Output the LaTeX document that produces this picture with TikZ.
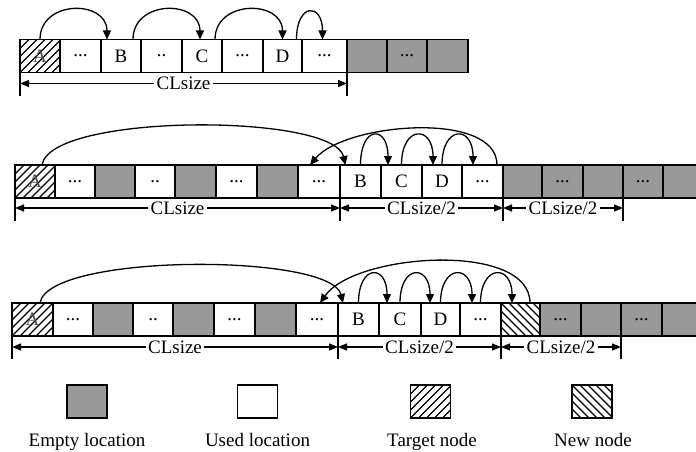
\documentclass[tikz,border=0pt]{standalone}
\usepackage{fontspec}
\setmainfont{Liberation Serif}
\usetikzlibrary{arrows.meta}
\definecolor{emptyc}{HTML}{999999}
\newcommand\mkcell[6]{%
  \pgfmathsetmacro\cw{#3-#2}%
  \node[cell,#5,minimum width=\cw pt,anchor=north west] (#1) at (#2,#4) {#6};}
\tikzset{
  cell/.style={draw,line width=1.4pt,minimum height=33pt,inner sep=0pt,outer sep=0pt},
  used/.style={fill=white},
  empty/.style={fill=emptyc},
  hatchA/.style={fill=white,path picture={\foreach \i in {-48,-40,...,48}
      \draw[line width=1.2pt] ([xshift=\i pt]path picture bounding box.south west) -- ++(45:90pt);}},
  hatchB/.style={fill=white,path picture={\foreach \i in {-48,-40,...,48}
      \draw[line width=1.2pt] ([xshift=\i pt]path picture bounding box.north west) -- ++(-45:90pt);}},
  target/.style={hatchA,text=black!70},
  newn/.style={hatchB},
  arc/.style={line width=1.3pt,-{Triangle[length=9pt,width=8pt]}},
  dimline/.style={line width=1.2pt,{Triangle[length=9pt,width=7pt]}-{Triangle[length=9pt,width=7pt]}},
  tickline/.style={line width=1.2pt},
  dimlabel/.style={fill=white,inner sep=2.5pt},
  legbox/.style={draw,line width=1.5pt,minimum width=40pt,minimum height=33pt,inner sep=0pt},
  legtext/.style={anchor=base}
}
\begin{document}
\begin{tikzpicture}[x=1pt,y=-1pt,font=\fontsize{19}{22}\selectfont]
\useasboundingbox (0,0) rectangle (696,452);
\clip (0,0) rectangle (696,452);
% ---------- row 1 ----------
\mkcell{r1a}{20}{60}{39.5}{target}{A}
\mkcell{r1b}{60}{101}{39.5}{used}{...}
\mkcell{r1c}{101}{141}{39.5}{used}{B}
\mkcell{r1d}{141}{182}{39.5}{used}{..}
\mkcell{r1e}{182}{222}{39.5}{used}{C}
\mkcell{r1f}{222}{263}{39.5}{used}{...}
\mkcell{r1g}{263}{302}{39.5}{used}{D}
\mkcell{r1h}{302}{347}{39.5}{used}{...}
\mkcell{r1i}{347}{387}{39.5}{empty}{}
\mkcell{r1j}{387}{427}{39.5}{empty}{...}
\mkcell{r1k}{427}{468}{39.5}{empty}{}
\draw[arc] (r1a.north) .. controls +(0,-40) and +(0,-40) .. ([xshift=-14pt]r1c.north);
\draw[arc] ([xshift=12pt]r1c.north) .. controls +(0,-40) and +(0,-40) .. ([xshift=-2pt]r1e.north);
\draw[arc] ([xshift=13pt]r1e.north) .. controls +(0,-40) and +(0,-40) .. (r1g.north);
\draw[arc] ([xshift=14pt]r1g.north) .. controls +(0,-37) and +(0,-37) .. ([xshift=-2pt]r1h.north);
\draw[tickline] (r1a.south west) -- ++(0,23);
\draw[tickline] (r1h.south east) -- ++(0,23);
\draw[dimline] ([yshift=-11pt]r1a.south west) -- node[dimlabel]{CLsize} ([yshift=-11pt]r1h.south east);
% ---------- row 2 ----------
\mkcell{r2a}{15}{55}{165}{target}{A}
\mkcell{r2b}{55}{95}{165}{used}{...}
\mkcell{r2c}{95}{135}{165}{empty}{}
\mkcell{r2d}{135}{175}{165}{used}{..}
\mkcell{r2e}{175}{216}{165}{empty}{}
\mkcell{r2f}{216}{257}{165}{used}{...}
\mkcell{r2g}{257}{298}{165}{empty}{}
\mkcell{r2h}{298}{340}{165}{used}{...}
\mkcell{r2i}{340}{381}{165}{used}{B}
\mkcell{r2j}{381}{422}{165}{used}{C}
\mkcell{r2k}{422}{462}{165}{used}{D}
\mkcell{r2l}{462}{503}{165}{used}{...}
\mkcell{r2m}{503}{542}{165}{empty}{}
\mkcell{r2n}{542}{583}{165}{empty}{...}
\mkcell{r2o}{583}{623}{165}{empty}{}
\mkcell{r2p}{623}{663}{165}{empty}{...}
\mkcell{r2q}{663}{705}{165}{empty}{}
\draw[arc] ([xshift=7pt]r2a.north) .. controls +(8,-52) and +(-12,-52) .. ([xshift=-15pt]r2i.north);
\draw[arc] ([xshift=14.5pt]r2l.north) .. controls +(0,-55) and +(35,-42) .. ([xshift=-9pt]r2h.north);
\draw[arc] (r2i.north) .. controls +(0,-40) and +(0,-40) .. ([xshift=-13.5pt]r2j.north);
\draw[arc] (r2j.north) .. controls +(0,-40) and +(0,-40) .. ([xshift=-9pt]r2k.north);
\draw[arc] (r2k.north) .. controls +(0,-40) and +(0,-40) .. ([xshift=-9.5pt]r2l.north);
\draw[tickline] (r2a.south west) -- ++(0,23);
\draw[tickline] (r2i.south west) -- ++(0,23);
\draw[tickline] (r2l.south east) -- ++(0,23);
\draw[tickline] (r2o.south east) -- ++(0,23);
\draw[dimline] ([yshift=-10pt]r2a.south west) -- node[dimlabel]{CLsize} ([yshift=-10pt]r2i.south west);
\draw[dimline] ([yshift=-10pt]r2i.south west) -- node[dimlabel]{CLsize/2} ([yshift=-10pt]r2l.south east);
\draw[dimline] ([yshift=-10pt]r2l.south east) -- node[dimlabel]{CLsize/2} ([yshift=-10pt]r2o.south east);
% ---------- row 3 ----------
\mkcell{r3a}{12}{53}{303}{target}{A}
\mkcell{r3b}{53}{93}{303}{used}{...}
\mkcell{r3c}{93}{133}{303}{empty}{}
\mkcell{r3d}{133}{173}{303}{used}{..}
\mkcell{r3e}{173}{214}{303}{empty}{}
\mkcell{r3f}{214}{255}{303}{used}{...}
\mkcell{r3g}{255}{296}{303}{empty}{}
\mkcell{r3h}{296}{338}{303}{used}{...}
\mkcell{r3i}{338}{379}{303}{used}{B}
\mkcell{r3j}{379}{421}{303}{used}{C}
\mkcell{r3k}{421}{460}{303}{used}{D}
\mkcell{r3l}{460}{501}{303}{used}{...}
\mkcell{r3m}{501}{540}{303}{newn}{}
\mkcell{r3n}{540}{581}{303}{empty}{...}
\mkcell{r3o}{581}{621}{303}{empty}{}
\mkcell{r3p}{621}{662}{303}{empty}{...}
\mkcell{r3q}{662}{705}{303}{empty}{}
\draw[arc] ([xshift=7.5pt]r3a.north) .. controls +(8,-50) and +(-12,-50) .. ([xshift=-15.5pt]r3i.north);
\draw[arc] ([xshift=9.5pt]r3m.north) .. controls +(0,-62) and +(35,-50) .. ([xshift=3pt]r3h.north);
\draw[arc] (r3i.north) .. controls +(0,-39) and +(0,-39) .. ([xshift=-13pt]r3j.north);
\draw[arc] (r3j.north) .. controls +(0,-39) and +(0,-39) .. ([xshift=-10.5pt]r3k.north);
\draw[arc] (r3k.north) .. controls +(0,-39) and +(0,-39) .. ([xshift=-8.5pt]r3l.north);
\draw[arc] (r3l.north) .. controls +(0,-39) and +(0,-39) .. ([xshift=-8.5pt]r3m.north);
\draw[tickline] (r3a.south west) -- ++(0,23);
\draw[tickline] (r3i.south west) -- ++(0,23);
\draw[tickline] (r3l.south east) -- ++(0,23);
\draw[tickline] (r3o.south east) -- ++(0,23);
\draw[dimline] ([yshift=-11pt]r3a.south west) -- node[dimlabel]{CLsize} ([yshift=-11pt]r3i.south west);
\draw[dimline] ([yshift=-11pt]r3i.south west) -- node[dimlabel]{CLsize/2} ([yshift=-11pt]r3l.south east);
\draw[dimline] ([yshift=-11pt]r3l.south east) -- node[dimlabel]{CLsize/2} ([yshift=-11pt]r3o.south east);
% ---------- legend ----------
\node[legbox,fill=emptyc] (lg1) at (87,401.5) {};
\node[legbox,fill=white] (lg2) at (257.5,401.5) {};
\node[legbox,hatchA] (lg3) at (430.5,401.5) {};
\node[legbox,hatchB] (lg4) at (592,401.5) {};
\node[legtext] (lt1) at (87,446) {Empty location};
\node[legtext] (lt2) at (257.5,446) {Used location};
\node[legtext] (lt3) at (432,446) {Target node};
\node[legtext] (lt4) at (593,446) {New node};
\end{tikzpicture}
\end{document}
